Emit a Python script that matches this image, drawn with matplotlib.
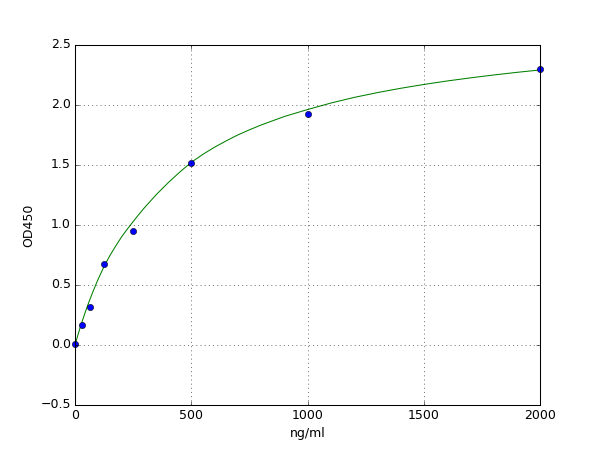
import numpy as np
import matplotlib
matplotlib.use('Agg')
from matplotlib import pyplot as plt

plt.style.use('classic')

# standards (measured)
conc = [0, 31.25, 62.5, 125, 250, 500, 1000, 2000]
od = [0.006, 0.167, 0.317, 0.672, 0.953, 1.517, 1.925, 2.298]

# fitted curve
fit_x = [0, 10, 20, 30, 40, 50, 60, 75, 90, 100, 125, 150, 175, 200, 225,
         250, 275, 300, 350, 400, 450, 500, 550, 600, 650, 700, 750, 800,
         900, 1000, 1100, 1200, 1300, 1400, 1500, 1600, 1700, 1800, 1900, 2000]
fit_y = [0.0, 0.067, 0.131, 0.192, 0.250, 0.306, 0.359, 0.434, 0.505, 0.550,
         0.655, 0.745, 0.825, 0.900, 0.966, 1.028, 1.089, 1.147, 1.254, 1.351,
         1.440, 1.522, 1.589, 1.648, 1.701, 1.750, 1.793, 1.833, 1.904, 1.962,
         2.016, 2.063, 2.103, 2.139, 2.171, 2.200, 2.226, 2.250, 2.272, 2.292]

fig = plt.figure(figsize=(8, 6), dpi=75)
ax = fig.add_subplot(111)

ax.plot(fit_x, fit_y, 'g-')
ax.plot(conc, od, 'bo', markersize=6, clip_on=False)

ax.set_xlim(0, 2000)
ax.set_ylim(-0.5, 2.5)
ax.set_xticks([0, 500, 1000, 1500, 2000])
ax.grid(True)
ax.set_xlabel('ng/ml')
ax.set_ylabel('OD450')

fig.savefig('out.png', dpi=75, facecolor='white')
